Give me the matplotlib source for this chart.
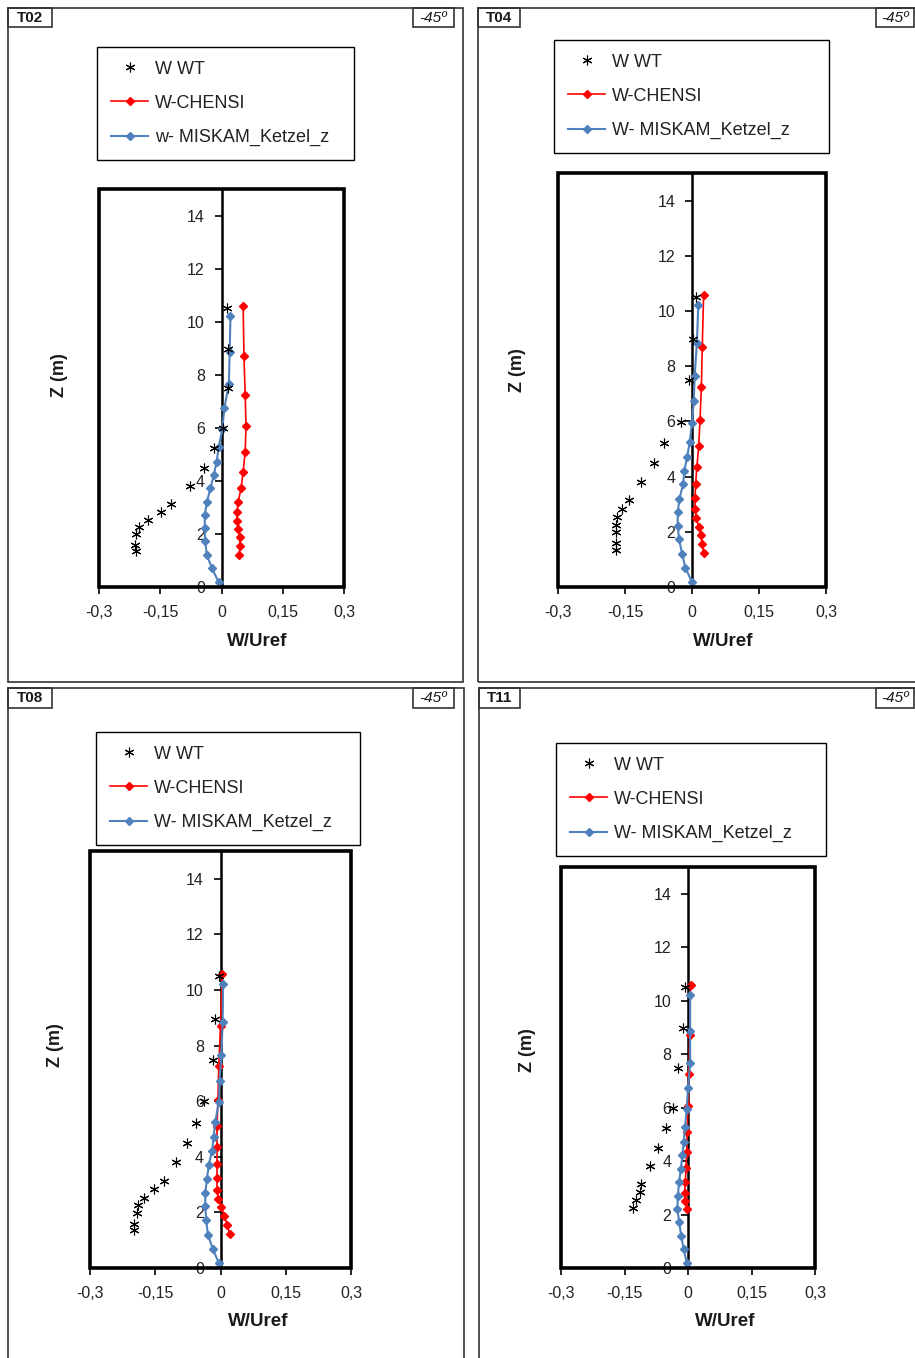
import matplotlib
matplotlib.use("Agg")
import matplotlib.pyplot as plt
from matplotlib.patches import Rectangle

plt.rcParams['font.family'] = ['Liberation Sans', 'DejaVu Sans']

# heights (m) of the profiles
z_wt = [10.5, 8.97, 7.49, 5.99, 5.23, 4.49, 3.8, 3.14, 2.83, 2.53, 2.26, 1.98, 1.6, 1.35]
z_chensi = [10.58, 8.71, 7.25, 6.06, 5.1, 4.35, 3.73, 3.22, 2.81, 2.49, 2.19, 1.87, 1.54, 1.22]
z_miskam = [10.2, 8.85, 7.65, 6.74, 5.96, 5.26, 4.71, 4.22, 3.72, 3.2, 2.71, 2.22, 1.73, 1.2, 0.7, 0.18]

# W/Uref values per station
t02_wt = [0.014, 0.016, 0.016, 0.003, -0.019, -0.042, -0.077, -0.124, -0.147, -0.180, -0.201, -0.209, -0.213, -0.209]
t02_chensi = [0.053, 0.055, 0.058, 0.060, 0.058, 0.053, 0.048, 0.041, 0.038, 0.038, 0.041, 0.045, 0.045, 0.044]
t02_miskam = [0.022, 0.020, 0.018, 0.007, 0.002, -0.007, -0.012, -0.019, -0.027, -0.036, -0.041, -0.041, -0.040, -0.036, -0.023, -0.007]

t04_wt = [0.010, 0.002, -0.007, -0.024, -0.063, -0.084, -0.115, -0.142, -0.156, -0.169, -0.171, -0.170, -0.170, -0.170]
t04_chensi = [0.026, 0.023, 0.021, 0.018, 0.015, 0.011, 0.008, 0.007, 0.007, 0.010, 0.015, 0.020, 0.023, 0.026]
t04_miskam = [0.014, 0.011, 0.006, 0.004, 0.000, -0.005, -0.011, -0.017, -0.020, -0.028, -0.032, -0.032, -0.029, -0.022, -0.015, 0.000]

t08_wt = [-0.004, -0.012, -0.017, -0.039, -0.057, -0.078, -0.103, -0.130, -0.154, -0.175, -0.189, -0.193, -0.199, -0.200]
t08_chensi = [0.004, 0.000, -0.004, -0.006, -0.008, -0.008, -0.008, -0.008, -0.008, -0.005, 0.002, 0.009, 0.016, 0.021]
t08_miskam = [0.006, 0.005, 0.002, -0.002, -0.004, -0.012, -0.016, -0.019, -0.027, -0.031, -0.035, -0.035, -0.033, -0.029, -0.018, -0.004]

t11_wt = [-0.008, -0.011, -0.024, -0.035, -0.053, -0.071, -0.090, -0.111, -0.114, -0.122, -0.129]
t11_chensi = [0.006, 0.004, 0.002, 0.000, -0.002, -0.003, -0.005, -0.006, -0.008, -0.008, -0.002]
t11_miskam = [0.005, 0.005, 0.005, 0.000, -0.003, -0.007, -0.010, -0.013, -0.017, -0.021, -0.024, -0.025, -0.021, -0.016, -0.010, -0.003]

x_ticks = [-0.3, -0.15, 0, 0.15, 0.3]
x_tick_labels = ['-0,3', '-0,15', '0', '0,15', '0,3']
y_ticks = [0, 2, 4, 6, 8, 10, 12, 14]
legend_t02 = ['W WT', 'W-CHENSI', 'w- MISKAM_Ketzel_z']
legend_other = ['W WT', 'W-CHENSI', 'W- MISKAM_Ketzel_z']
angle_text = '-45º'

W, H = 915, 1358


def fx(x):
    return x / W


def fy(y):
    return 1 - y / H


def box(l, t, r, b):
    return [fx(l), fy(b), (r - l) / W, (b - t) / H]


panels = [
    dict(name='T02', wt=t02_wt, ch=t02_chensi, mi=t02_miskam, labels=legend_t02,
         frame=(8, 8, 463, 682), ax=(99, 189, 344, 587), leg=(97, 47, 354, 153),
         nbox=(8, 8, 52, 27), abox=(413, 8, 454, 27), ylab=(60, 375), xlab=(257, 641)),
    dict(name='T04', wt=t04_wt, ch=t04_chensi, mi=t04_miskam, labels=legend_other,
         frame=(478, 8, 925, 682), ax=(558, 173, 826, 587), leg=(554, 40, 829, 155),
         nbox=(478, 8, 520, 27), abox=(876, 8, 914, 27), ylab=(518, 370), xlab=(723, 641)),
    dict(name='T08', wt=t08_wt, ch=t08_chensi, mi=t08_miskam, labels=legend_other,
         frame=(8, 688, 464, 1368), ax=(90, 851, 351, 1268), leg=(96, 732, 360, 833),
         nbox=(8, 688, 52, 708), abox=(413, 688, 454, 708), ylab=(55, 1045), xlab=(258, 1322)),
    dict(name='T11', wt=t11_wt, ch=t11_chensi, mi=t11_miskam, labels=legend_other,
         frame=(479, 688, 925, 1368), ax=(561, 867, 815, 1268), leg=(556, 743, 826, 851),
         nbox=(479, 688, 520, 708), abox=(876, 688, 914, 708), ylab=(527, 1050), xlab=(725, 1322)),
]

fig = plt.figure(figsize=(9.15, 13.58), dpi=100)

for p in panels:
    # outer panel frame and the small title boxes
    l, t, r, b = p['frame']
    fig.add_artist(Rectangle((fx(l), fy(b)), (r - l) / W, (b - t) / H, transform=fig.transFigure,
                             fill=False, ec='#333333', lw=1.2))
    for key, txt in (('nbox', p['name']), ('abox', angle_text)):
        l, t, r, b = p[key]
        fig.add_artist(Rectangle((fx(l), fy(b)), (r - l) / W, (b - t) / H, transform=fig.transFigure,
                                 fill=False, ec='#333333', lw=1.2))
        fig.text(fx((l + r) / 2), fy((t + b) / 2), txt, ha='center', va='center', fontsize=11,
                 fontweight='bold' if key == 'nbox' else 'normal',
                 fontstyle='normal' if key == 'nbox' else 'italic', color='#1a1a1a')

    ax = fig.add_axes(box(*p['ax']))
    n_wt = len(p['wt'])
    n_ch = len(p['ch'])
    h1, = ax.plot(p['wt'], z_wt[:n_wt], linestyle='none', marker=(6, 2, 0), markersize=7,
                  mew=0.8, color='black', zorder=4)
    h2, = ax.plot(p['ch'], z_chensi[:n_ch], color='#ff0000', lw=1.2, marker='D', markersize=4.5,
                  zorder=3)
    h3, = ax.plot(p['mi'], z_miskam, color='#4f81bd', lw=1.5, marker='D', markersize=4.5,
                  zorder=3)

    ax.set_xlim(-0.3, 0.3)
    ax.set_ylim(0, 15)
    ax.set_xticks(x_ticks)
    ax.set_xticklabels(x_tick_labels)
    ax.set_yticks(y_ticks)
    for s in ('top', 'right', 'bottom'):
        ax.spines[s].set_visible(False)
    ax.spines['left'].set_position(('data', 0))
    ax.spines['left'].set_linewidth(1.8)
    ax.tick_params(axis='both', direction='out', length=5, width=1.2, labelsize=11.5,
                   labelcolor='#222222')
    ax.tick_params(axis='x', pad=8)
    ax.tick_params(axis='y', pad=7)
    ax.add_patch(Rectangle((0, 0), 1, 1, transform=ax.transAxes, fill=False, lw=2.6,
                           ec='black', clip_on=False, zorder=6))

    fig.text(fx(p['ylab'][0]), fy(p['ylab'][1]), 'Z (m)', rotation=90, ha='center',
             va='center', fontsize=13, fontweight='bold', color='#1a1a1a')
    fig.text(fx(p['xlab'][0]), fy(p['xlab'][1]), 'W/Uref', ha='center', va='center',
             fontsize=13.5, fontweight='bold', color='#1a1a1a')

    leg = ax.legend([h1, h2, h3], p['labels'], loc='upper left',
                    bbox_to_anchor=box(*p['leg']), bbox_transform=fig.transFigure,
                    mode='expand', fancybox=False, framealpha=1, edgecolor='black',
                    fontsize=13, labelspacing=0.95, handlelength=2.1, handletextpad=0.35,
                    borderpad=0.75, borderaxespad=0)
    leg.get_frame().set_linewidth(1.0)
    for txt in leg.get_texts():
        txt.set_color('#222222')

fig.savefig('out.png', dpi=100)
